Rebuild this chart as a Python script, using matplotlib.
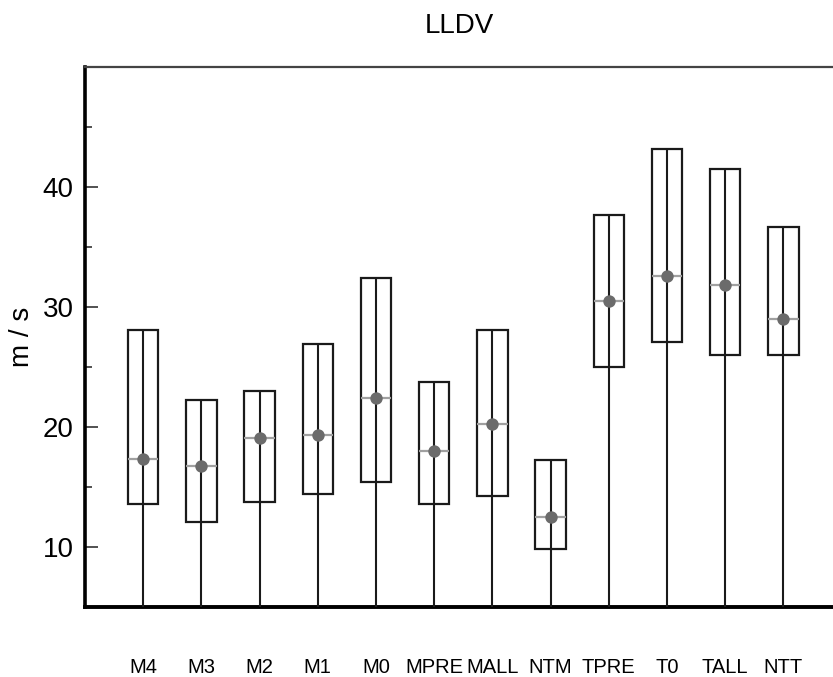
import matplotlib
matplotlib.use("Agg")
import matplotlib.pyplot as plt
from matplotlib.ticker import MultipleLocator

# Per-group statistics (m/s)
groups = ["M4", "M3", "M2", "M1", "M0", "MPRE", "MALL", "NTM", "TPRE", "T0", "TALL", "NTT"]
q1 = [13.6, 12.1, 13.7, 14.4, 15.4, 13.6, 14.2, 9.8, 25.0, 27.1, 26.0, 26.0]
q3 = [28.1, 22.2, 23.0, 26.9, 32.4, 23.7, 28.1, 17.2, 37.6, 43.1, 41.5, 36.6]
medians = [17.3, 16.7, 19.1, 19.3, 22.4, 18.0, 20.2, 12.5, 30.5, 32.6, 31.8, 29.0]
means = [17.3, 16.7, 19.1, 19.3, 22.4, 18.0, 20.2, 12.5, 30.5, 32.6, 31.8, 29.0]

y_min, y_max = 5, 50
box_width = 0.52

plt.rcParams["font.family"] = ["Liberation Sans", "DejaVu Sans"]

fig = plt.figure(figsize=(8.33, 6.77), dpi=100)
ax = fig.add_axes([0.102, 0.1038, 0.9083, 0.7977])

x = list(range(1, len(groups) + 1))

# interquartile boxes
ax.bar(x, [h - l for h, l in zip(q3, q1)], bottom=q1, width=box_width,
       color="white", edgecolor="#1a1a1a", linewidth=1.6, zorder=2)
# stems from the floor of the axis up to the upper quartile
ax.vlines(x, y_min, q3, colors="#1a1a1a", linewidth=1.5, zorder=3)
# medians
ax.hlines(medians, [xi - box_width / 2 for xi in x], [xi + box_width / 2 for xi in x],
          colors="#a0a0a0", linewidth=1.6, zorder=4)
# means
ax.scatter(x, means, s=80, color="#6b6b6b", zorder=5, linewidths=0)

ax.set_xlim(0, 13)
ax.set_ylim(y_min, y_max)

ax.set_xticks(x)
ax.set_xticklabels(groups, fontsize=14.5)
ax.tick_params(axis="x", length=0, pad=37)

ax.yaxis.set_major_locator(MultipleLocator(10))
ax.yaxis.set_minor_locator(MultipleLocator(5))
ax.set_yticks([10, 20, 30, 40])
ax.tick_params(axis="y", which="major", direction="in", length=9, width=1.2,
               color="#333333", labelsize=20, pad=8)
ax.tick_params(axis="y", which="minor", direction="in", length=5, width=1.2,
               color="#333333")

ax.set_ylabel("m / s", fontsize=20, labelpad=6)
ax.set_title("LLDV", fontsize=20, pad=24, x=0.495)

ax.spines["left"].set_linewidth(2.6)
ax.spines["left"].set_color("black")
ax.spines["bottom"].set_linewidth(2.8)
ax.spines["bottom"].set_color("black")
ax.spines["top"].set_linewidth(1.6)
ax.spines["top"].set_color("#444444")
ax.spines["right"].set_visible(False)

fig.savefig("out.png", dpi=100)
